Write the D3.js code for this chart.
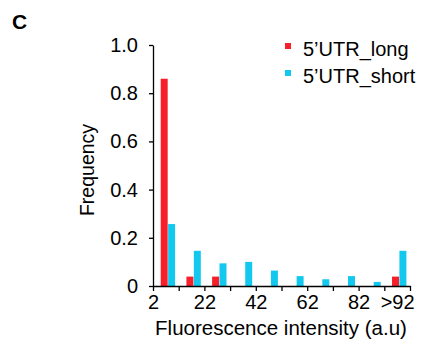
<!DOCTYPE html>
<html>
<head>
<meta charset="UTF-8">
<script src="https://d3js.org/d3.v7.min.js"></script>
<style>
    body { margin: 0; background: #fff; }
    svg text { font-family: "Liberation Sans", Arial, sans-serif; fill: #000; }
    .axis path, .axis line { stroke: #000; stroke-width: 1.3px; }
    .axis text { font-size: 20px; }
</style>
</head>
<body>
<div id="chart"></div>
<script>
// bins of fluorescence intensity (a.u), 10 wide each, last one is >92
var bins = ["2-12", "12-22", "22-32", "32-42", "42-52", "52-62", "62-72", "72-82", "82-92", ">92"];
var series = ["5\u2019UTR_long", "5\u2019UTR_short"];
var longValues = [0.86, 0.039, 0.039, 0, 0, 0, 0, 0, 0, 0.039];
var shortValues = [0.257, 0.146, 0.094, 0.10, 0.064, 0.041, 0.028, 0.041, 0.017, 0.146];
var xTickLabels = ["2", "", "22", "", "42", "", "62", "", "82", "", ">92"];
var yTicks = [0, 0.2, 0.4, 0.6, 0.8, 1.0];
var colors = ["#f7202a", "#12c8ee"];

var margin = {top: 45, right: 13, bottom: 59, left: 153},
    width = 423 - margin.left - margin.right,
    height = 345 - margin.top - margin.bottom;

var svg = d3.select("#chart")
  .append("svg")
    .attr("width", 423)
    .attr("height", 345);

svg.append("text")
    .attr("x", 12)
    .attr("y", 29)
    .style("font-size", "21px")
    .style("font-weight", "bold")
    .text("C");

var g = svg.append("g")
    .attr("transform", "translate(" + margin.left + "," + margin.top + ")");

// one band per bin, a small band inside for the two series
var x = d3.scaleBand().domain(bins).range([0, width]).padding(0);
var xTick = d3.scaleLinear().domain([0, bins.length]).range([0, width]);
var xSub = d3.scaleBand().domain(series).range([x.bandwidth() * 0.3, x.bandwidth() * 0.86]).paddingInner(0.06);
var y = d3.scaleLinear().domain([0, 1]).range([height, 0]);
var color = d3.scaleOrdinal().domain(series).range(colors);

var rows = bins.map(function(b, i) {
    return {bin: b, values: [longValues[i], shortValues[i]]};
});

g.append("g")
  .selectAll("g")
  .data(rows)
  .enter().append("g")
    .attr("transform", function(d) { return "translate(" + x(d.bin) + ",0)"; })
  .selectAll("rect")
  .data(function(d) { return series.map(function(s, j) { return {key: s, value: d.values[j]}; }); })
  .enter().append("rect")
    .attr("x", function(d) { return xSub(d.key); })
    .attr("y", function(d) { return y(d.value); })
    .attr("width", xSub.bandwidth())
    .attr("height", function(d) { return height - y(d.value); })
    .attr("fill", function(d) { return color(d.key); });

// x axis: a tick at every bin edge, labels on every other one
var xAxis = g.append("g")
    .attr("class", "axis")
    .attr("transform", "translate(0," + height + ")")
    .call(d3.axisBottom(xTick)
        .tickValues(d3.range(bins.length + 1))
        .tickFormat(function(d) { return xTickLabels[d]; })
        .tickSize(5).tickSizeOuter(0).tickPadding(4));
// ">92" sits under the middle of the last bin
xAxis.selectAll(".tick text")
    .filter(function(d) { return d === bins.length; })
    .attr("x", -x.bandwidth() / 2);

g.append("g")
    .attr("class", "axis")
    .call(d3.axisLeft(y)
        .tickValues(yTicks)
        .tickFormat(function(d) { return d === 0 ? "0" : d3.format(".1f")(d); })
        .tickSize(4).tickSizeOuter(0).tickPadding(11));

g.append("text")
    .attr("x", width / 2 - 0.5)
    .attr("y", height + 49)
    .attr("text-anchor", "middle")
    .style("font-size", "20.5px")
    .text("Fluorescence intensity (a.u)");

g.append("text")
    .attr("transform", "rotate(-90)")
    .attr("x", -125)
    .attr("y", -59)
    .attr("text-anchor", "middle")
    .style("font-size", "19.5px")
    .text("Frequency");

var legend = g.selectAll(".legend")
    .data(series)
    .enter().append("g")
    .attr("class", "legend")
    .attr("transform", function(d, i) { return "translate(132," + (i * 27) + ")"; });

legend.append("rect")
    .attr("x", 0)
    .attr("y", -2)
    .attr("width", 6)
    .attr("height", 6)
    .attr("fill", function(d) { return color(d); });

legend.append("text")
    .attr("x", 18)
    .attr("y", 10.5)
    .style("font-size", "20px")
    .text(function(d) { return d; });
</script>
</body>
</html>
